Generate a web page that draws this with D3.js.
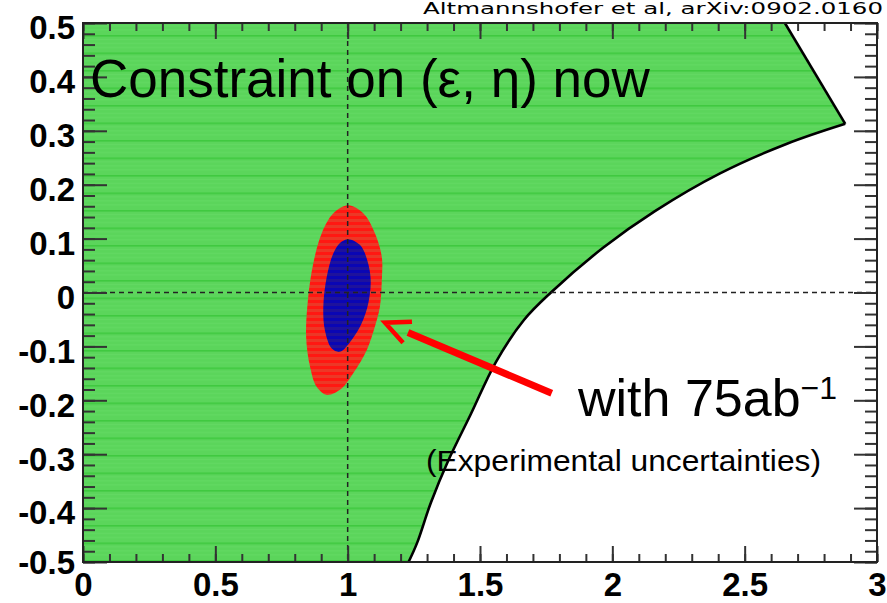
<!DOCTYPE html>
<html>
<head>
<meta charset="utf-8">
<script src="https://cdn.jsdelivr.net/npm/d3@7"></script>
<style>
  html, body { margin: 0; padding: 0; background: #fff; overflow: hidden; }
  svg { display: block; }
</style>
</head>
<body>
<svg id="chart" width="887" height="603"></svg>
<script>
// Allowed region in the (ε, η) plane: straight top edge, then curved edge
const boundaryTop = [[2.652, 0.5], [2.88, 0.313]];
const boundaryCurve = [
  [2.88, 0.313], [2.66, 0.276], [2.407, 0.221], [2.161, 0.151], [1.965, 0.083],
  [1.768, 0.0], [1.666, -0.051], [1.56, -0.129], [1.466, -0.225], [1.379, -0.313],
  [1.315, -0.389], [1.262, -0.465], [1.23, -0.5]
];

// Projected sensitivity with 75 ab^-1: outer (red) and inner (blue) contours
const outerContour = [
  [1.002, 0.162], [1.059, 0.147], [1.103, 0.110], [1.129, 0.066], [1.129, 0.023],
  [1.122, -0.026], [1.103, -0.063], [1.072, -0.107], [1.021, -0.150], [0.977, -0.178],
  [0.921, -0.190], [0.883, -0.175], [0.858, -0.138], [0.843, -0.082], [0.851, -0.008],
  [0.870, 0.054], [0.902, 0.110], [0.946, 0.147]
];
const innerContour = [
  [1.002, 0.099], [1.047, 0.088], [1.074, 0.060], [1.087, 0.023], [1.078, -0.020],
  [1.053, -0.057], [1.015, -0.088], [0.971, -0.110], [0.940, -0.104], [0.914, -0.070],
  [0.908, -0.026], [0.921, 0.029], [0.946, 0.073], [0.971, 0.092]
];

// Standard Model point
const smPoint = [1, 0];

// Axis ticks
const xTickValues = [0, 0.5, 1, 1.5, 2, 2.5, 3];
const xTickLabels = ["0", "0.5", "1", "1.5", "2", "2.5", "3"];
const yTickValues = [-0.5, -0.4, -0.3, -0.2, -0.1, 0, 0.1, 0.2, 0.3, 0.4, 0.5];
const yTickLabels = ["-0.5", "-0.4", "-0.3", "-0.2", "-0.1", "0", "0.1", "0.2", "0.3", "0.4", "0.5"];

// Annotation arrow (from label towards the contours)
const arrowFrom = [1.771, -0.187];
const arrowTo = [1.141, -0.056];

const svg = d3.select("#chart");
const plot = { left: 83, right: 877, top: 23, bottom: 562 };

const x = d3.scaleLinear().domain([0, 3]).range([plot.left, plot.right]);
const y = d3.scaleLinear().domain([-0.5, 0.5]).range([plot.bottom, plot.top]);

const defs = svg.append("defs");
defs.append("clipPath").attr("id", "plotClip")
  .append("rect")
  .attr("x", plot.left).attr("y", plot.top)
  .attr("width", plot.right - plot.left).attr("height", plot.bottom - plot.top);

// Striped fills
function stripePattern(id, h, base, stripes) {
  const p = defs.append("pattern").attr("id", id)
    .attr("patternUnits", "userSpaceOnUse")
    .attr("width", 20).attr("height", h);
  p.append("rect").attr("width", 20).attr("height", h).attr("fill", base);
  stripes.forEach(s => {
    p.append("rect").attr("x", 0).attr("y", s.y).attr("width", 20).attr("height", s.h).attr("fill", s.c);
  });
}
stripePattern("greenFill", 17.5, "#5bd55b", [
  { y: 0, h: 1.6, c: "#40c940" },
  { y: 4, h: 1, c: "#64da64" },
  { y: 8, h: 1, c: "#64da64" },
  { y: 12, h: 1, c: "#64da64" }
]);
stripePattern("redFill", 6, "#ec3826", [
  { y: 0, h: 3, c: "#ff1812" }
]);
stripePattern("blueFill", 6, "#1e129c", [
  { y: 0, h: 3, c: "#0a06b4" }
]);

const g = svg.append("g").attr("clip-path", "url(#plotClip)");

// Allowed region
const lineLinear = d3.line().x(d => x(d[0])).y(d => y(d[1]));
const lineCurve = d3.line().x(d => x(d[0])).y(d => y(d[1])).curve(d3.curveCatmullRom.alpha(0.5));
const curvePath = lineCurve(boundaryCurve);

const fillPath =
  `M${x(0)},${y(0.5)}L${x(boundaryTop[0][0])},${y(boundaryTop[0][1])}` +
  curvePath.replace(/^M/, "L") +
  `L${x(0)},${y(-0.5)}Z`;

g.append("path").attr("d", fillPath).attr("fill", "url(#greenFill)");
g.append("path").attr("d", lineLinear(boundaryTop))
  .attr("fill", "none").attr("stroke", "#000").attr("stroke-width", 2.6);
g.append("path").attr("d", curvePath)
  .attr("fill", "none").attr("stroke", "#000").attr("stroke-width", 2.6);

// Contours
const closed = d3.line().x(d => x(d[0])).y(d => y(d[1])).curve(d3.curveCatmullRomClosed.alpha(0.5));
g.append("path").attr("d", closed(outerContour)).attr("fill", "url(#redFill)");
g.append("path").attr("d", closed(innerContour)).attr("fill", "url(#blueFill)");

// Dashed reference lines through the SM point
g.append("line")
  .attr("x1", x(smPoint[0])).attr("x2", x(smPoint[0]))
  .attr("y1", plot.top).attr("y2", plot.bottom)
  .attr("stroke", "#222").attr("stroke-width", 1.5).attr("stroke-dasharray", "5,4");
g.append("line")
  .attr("x1", plot.left).attr("x2", plot.right)
  .attr("y1", y(smPoint[1])).attr("y2", y(smPoint[1]))
  .attr("stroke", "#222").attr("stroke-width", 1.5).attr("stroke-dasharray", "5,4");

// Axes (ticks pointing inward on all four sides)
const xMinor = d3.range(0, 3.0001, 0.1);
const yMinor = d3.range(-0.5, 0.50001, 0.02);

function styleAxis(sel) {
  sel.select(".domain").remove();
  sel.selectAll(".tick line").attr("stroke", "#333").attr("stroke-width", 2);
  sel.selectAll("text")
    .attr("font-family", "'Liberation Sans', Arial, Helvetica, sans-serif")
    .attr("font-weight", "bold")
    .attr("font-size", 33)
    .attr("fill", "#000");
}

const axes = svg.append("g");

axes.append("g").attr("transform", `translate(0,${plot.bottom})`)
  .call(d3.axisBottom(x).tickValues(xMinor).tickSize(-8).tickFormat(""))
  .call(styleAxis);
axes.append("g").attr("transform", `translate(0,${plot.bottom})`)
  .call(d3.axisBottom(x).tickValues(xTickValues).tickSizeInner(-16).tickSizeOuter(0)
    .tickPadding(11).tickFormat((d, i) => xTickLabels[i]))
  .call(styleAxis);

axes.append("g").attr("transform", `translate(0,${plot.top})`)
  .call(d3.axisTop(x).tickValues(xMinor).tickSize(-8).tickFormat(""))
  .call(styleAxis);
axes.append("g").attr("transform", `translate(0,${plot.top})`)
  .call(d3.axisTop(x).tickValues(xTickValues).tickSize(-16).tickFormat(""))
  .call(styleAxis);

axes.append("g").attr("transform", `translate(${plot.left},0)`)
  .call(d3.axisLeft(y).tickValues(yMinor).tickSize(-12).tickFormat(""))
  .call(styleAxis);
const yAxisG = axes.append("g").attr("transform", `translate(${plot.left},0)`)
  .call(d3.axisLeft(y).tickValues(yTickValues).tickSizeInner(-24).tickSizeOuter(0)
    .tickPadding(8).tickFormat((d, i) => yTickLabels[i]))
  .call(styleAxis);
yAxisG.selectAll("text").attr("dy", (d) => d === -0.5 ? "0.36em" : "0.48em");

axes.append("g").attr("transform", `translate(${plot.right},0)`)
  .call(d3.axisRight(y).tickValues(yMinor).tickSize(-12).tickFormat(""))
  .call(styleAxis);
axes.append("g").attr("transform", `translate(${plot.right},0)`)
  .call(d3.axisRight(y).tickValues(yTickValues).tickSize(-23).tickFormat(""))
  .call(styleAxis);

// Frame
svg.append("rect")
  .attr("x", plot.left).attr("y", plot.top)
  .attr("width", plot.right - plot.left).attr("height", plot.bottom - plot.top)
  .attr("fill", "none").attr("stroke", "#222").attr("stroke-width", 2);

// Labels
const sans = "'Liberation Sans', Arial, Helvetica, sans-serif";

svg.append("text")
  .attr("x", 90).attr("y", 97)
  .attr("font-family", sans).attr("font-size", 53).attr("fill", "#000")
  .text("Constraint on (ε, η) now");

const lum = svg.append("text")
  .attr("x", 578).attr("y", 416)
  .attr("font-family", sans).attr("font-size", 52).attr("fill", "#000");
lum.append("tspan").text("with 75ab");
lum.append("tspan").attr("font-size", 32).attr("dy", -17).text("\u22121");

svg.append("text")
  .attr("x", 426).attr("y", 471)
  .attr("font-family", sans).attr("font-size", 29).attr("fill", "#000")
  .attr("textLength", 395).attr("lengthAdjust", "spacingAndGlyphs")
  .text("(Experimental uncertainties)");

svg.append("text")
  .attr("x", 423).attr("y", 14)
  .attr("font-family", "'Comic Sans MS', 'DejaVu Sans', sans-serif")
  .attr("font-size", 15).attr("fill", "#000")
  .attr("textLength", 460).attr("lengthAdjust", "spacingAndGlyphs")
  .text("Altmannshofer et al, arXiv:0902.0160");

// Arrow from the label to the contours
const tail = [x(arrowFrom[0]), y(arrowFrom[1])];
const tip = [x(arrowTo[0]), y(arrowTo[1])];
const ang = Math.atan2(tail[1] - tip[1], tail[0] - tip[0]);
const headLen = 27, headSpread = 25 * Math.PI / 180;
const shaftGap = 25;
const shaftEnd = [tip[0] + shaftGap * Math.cos(ang), tip[1] + shaftGap * Math.sin(ang)];

svg.append("line")
  .attr("x1", tail[0]).attr("y1", tail[1])
  .attr("x2", shaftEnd[0]).attr("y2", shaftEnd[1])
  .attr("stroke", "#ff0000").attr("stroke-width", 7);
const arm1 = [tip[0] + headLen * Math.cos(ang - headSpread), tip[1] + headLen * Math.sin(ang - headSpread)];
const arm2 = [tip[0] + headLen * Math.cos(ang + headSpread), tip[1] + headLen * Math.sin(ang + headSpread)];
svg.append("path")
  .attr("d", `M${arm1[0]},${arm1[1]}L${tip[0]},${tip[1]}L${arm2[0]},${arm2[1]}`)
  .attr("fill", "none").attr("stroke", "#ff0000").attr("stroke-width", 4.5)
  .attr("stroke-linejoin", "miter");
</script>
</body>
</html>
